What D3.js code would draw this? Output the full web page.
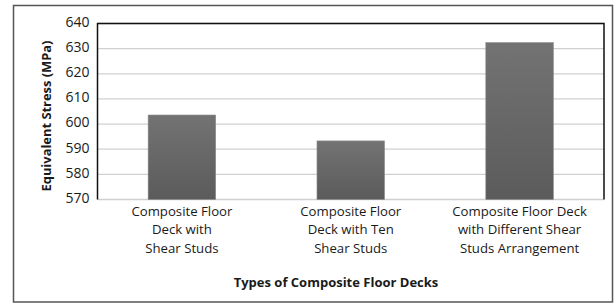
<!DOCTYPE html>
<html>
<head>
<meta charset="utf-8">
<script src="https://cdn.jsdelivr.net/npm/d3@7"></script>
<style>
  html, body { margin: 0; padding: 0; background: #fff; }
  svg text { font-family: "Open Sans", sans-serif; fill: #1a1a1a; }
</style>
</head>
<body>
<svg id="chart" width="616" height="304"></svg>
<script>
var categories = [
  ["Composite Floor", "Deck with", "Shear Studs"],
  ["Composite Floor", "Deck with Ten", "Shear Studs"],
  ["Composite Floor Deck", "with Different Shear", "Studs Arrangement"]
];
var stress = [603.6, 593.3, 632.4];
var yTicks = [570, 580, 590, 600, 610, 620, 630, 640];
var yTitle = "Equivalent Stress (MPa)";
var xTitle = "Types of Composite Floor Decks";

var width = 616, height = 304;
var margin = {top: 23.5, right: 12, bottom: 104.5, left: 97.5};

var svg = d3.select("#chart");

// outer frame
svg.append("rect")
  .attr("x", 13.5).attr("y", 5.5)
  .attr("width", 599).attr("height", 296.5)
  .attr("fill", "#fff")
  .attr("stroke", "#555")
  .attr("stroke-width", 1.5);

var x = d3.scaleBand()
  .domain(d3.range(categories.length))
  .range([margin.left, width - margin.right])
  .paddingInner(0.6)
  .paddingOuter(0.3);

var y = d3.scaleLinear()
  .domain([570, 640])
  .range([height - margin.bottom, margin.top]);

var defs = svg.append("defs");
var grad = defs.append("linearGradient")
  .attr("id", "barGrad")
  .attr("x1", 0).attr("y1", 0).attr("x2", 0).attr("y2", 1);
grad.append("stop").attr("offset", "0%").attr("stop-color", "#737373");
grad.append("stop").attr("offset", "100%").attr("stop-color", "#5b5b5b");

// gridlines
svg.append("g")
  .selectAll("line")
  .data(yTicks.slice(1))
  .join("line")
  .attr("x1", margin.left).attr("x2", width - margin.right)
  .attr("y1", d => y(d)).attr("y2", d => y(d))
  .attr("stroke", "#d0d0d0")
  .attr("stroke-width", 1.3);

// baseline (light)
svg.append("line")
  .attr("x1", margin.left).attr("x2", width - margin.right)
  .attr("y1", y(570)).attr("y2", y(570))
  .attr("stroke", "#d0d0d0")
  .attr("stroke-width", 1.3);

// bars
svg.append("g")
  .selectAll("rect")
  .data(stress)
  .join("rect")
  .attr("x", (d, i) => x(i))
  .attr("y", d => y(d))
  .attr("width", x.bandwidth())
  .attr("height", d => y(570) - y(d))
  .attr("fill", "url(#barGrad)")
  .attr("stroke", "#8a8a8a")
  .attr("stroke-width", 0.6);

// plot frame: top, left, right
var frame = d3.path();
frame.moveTo(margin.left, y(570));
frame.lineTo(margin.left, margin.top);
frame.lineTo(width - margin.right, margin.top);
frame.lineTo(width - margin.right, y(570));
svg.append("path")
  .attr("d", frame.toString())
  .attr("fill", "none")
  .attr("stroke", "#111")
  .attr("stroke-width", 1.5);

// y axis labels
var yAxis = d3.axisLeft(y).tickValues(yTicks).tickSize(0).tickPadding(8);
svg.append("g")
  .attr("transform", `translate(${margin.left},0)`)
  .call(yAxis)
  .call(g => g.select(".domain").remove())
  .call(g => g.selectAll("text")
    .attr("font-size", 14)
    .attr("dy", "0.2em")
    .style("font-family", "'Open Sans', sans-serif")
    .attr("fill", "#1a1a1a"));

// category labels
var catG = svg.append("g")
  .selectAll("text")
  .data(categories)
  .join("text")
  .attr("text-anchor", "middle")
  .attr("font-size", 13.2)
  .attr("x", (d, i) => x(i) + x.bandwidth() / 2)
  .attr("y", y(570) + 16)
  .attr("fill", "#1a1a1a");
catG.selectAll("tspan")
  .data(d => d)
  .join("tspan")
  .attr("x", function() { return d3.select(this.parentNode).attr("x"); })
  .attr("dy", (d, i) => i === 0 ? 0 : 18.8)
  .text(d => d);

// axis titles
svg.append("text")
  .attr("transform", `translate(51,116) rotate(-90)`)
  .attr("text-anchor", "middle")
  .attr("font-size", 12.9)
  .attr("font-weight", "bold")
  .text(yTitle);

svg.append("text")
  .attr("x", 336)
  .attr("y", 287)
  .attr("text-anchor", "middle")
  .attr("font-size", 13)
  .attr("font-weight", "bold")
  .text(xTitle);
</script>
</body>
</html>
